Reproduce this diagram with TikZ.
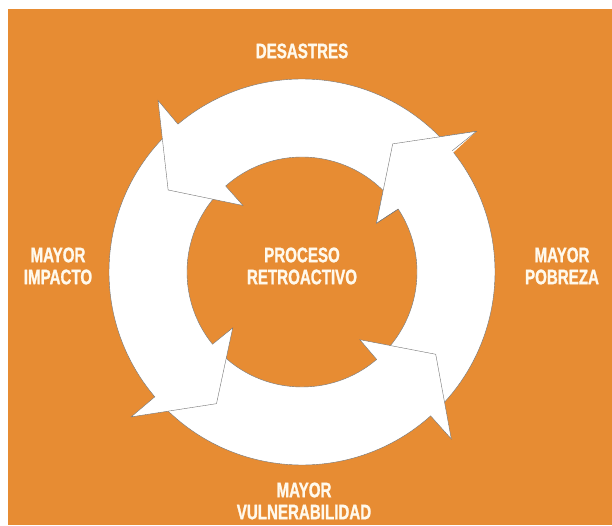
\documentclass[tikz,border=0pt]{standalone}
\usepackage{fontspec}
\usepackage{xcolor}
\usepackage{tikz}
\newfontfamily\ringfont[FakeStretch=0.72, FakeBold=1.2]{Liberation Sans Bold}
\definecolor{ringorange}{RGB}{231,140,51}
\definecolor{labelwhite}{RGB}{255,249,236}
\def\Rout{193pt}
\def\Rin{115pt}
\def\Rbarbout{224pt}
\def\Rbarbin{89pt}
\def\Rtip{157pt}
\newcommand{\ringarrow}[4]{%
    \filldraw[arrowpart] (#1:\Rout) arc[start angle=#1, end angle=#2, radius=\Rout]
        -- (#2:\Rbarbout) -- (#4:\Rtip) -- (#3:\Rbarbin) -- (#3:\Rin)
        arc[start angle=#3, end angle=#1, radius=\Rin] -- cycle;}
\newcommand{\ringhead}[3]{%
    \fill[white] (#1:\Rbarbout) -- (#3:\Rtip) -- (#2:\Rbarbin) -- cycle;
    \draw[arrowedge] (#1:\Rout) -- (#1:\Rbarbout) -- (#3:\Rtip) -- (#2:\Rbarbin) -- (#2:\Rin);}

\begin{document}
\begin{tikzpicture}[x=1pt, y=1pt,
    arrowpart/.style={fill=white, draw=black!55, line width=0.4pt},
    arrowedge/.style={draw=black!55, line width=0.4pt},
    caption/.style={font=\ringfont\fontsize{21}{22}\selectfont,
        text=labelwhite, align=center, inner sep=0pt}]
    \useasboundingbox[fill=white] (-302,-253) rectangle (310,272);
    \fill[ringorange] (-294,-253) rectangle (310,263);

    \ringarrow{-45}{38.9}{33.2}{54.7}
    \ringarrow{224}{311.8}{310.5}{328.4}
    \ringarrow{134}{220.3}{218.9}{237}
    \ringarrow{41}{130}{131.6}{148.5}
    \ringhead{38.9}{33.2}{54.7}

    \node[caption] (desastres) at (0,221) {DESASTRES};
    \node[caption] (impacto) at (-244,6) {MAYOR\\IMPACTO};
    \node[caption] (pobreza) at (260,6) {MAYOR\\POBREZA};
    \node[caption] (proceso) at (0,6) {PROCESO\\RETROACTIVO};
    \node[caption] (vulnerabilidad) at (2,-229) {MAYOR\\VULNERABILIDAD};
\end{tikzpicture}
\end{document}
